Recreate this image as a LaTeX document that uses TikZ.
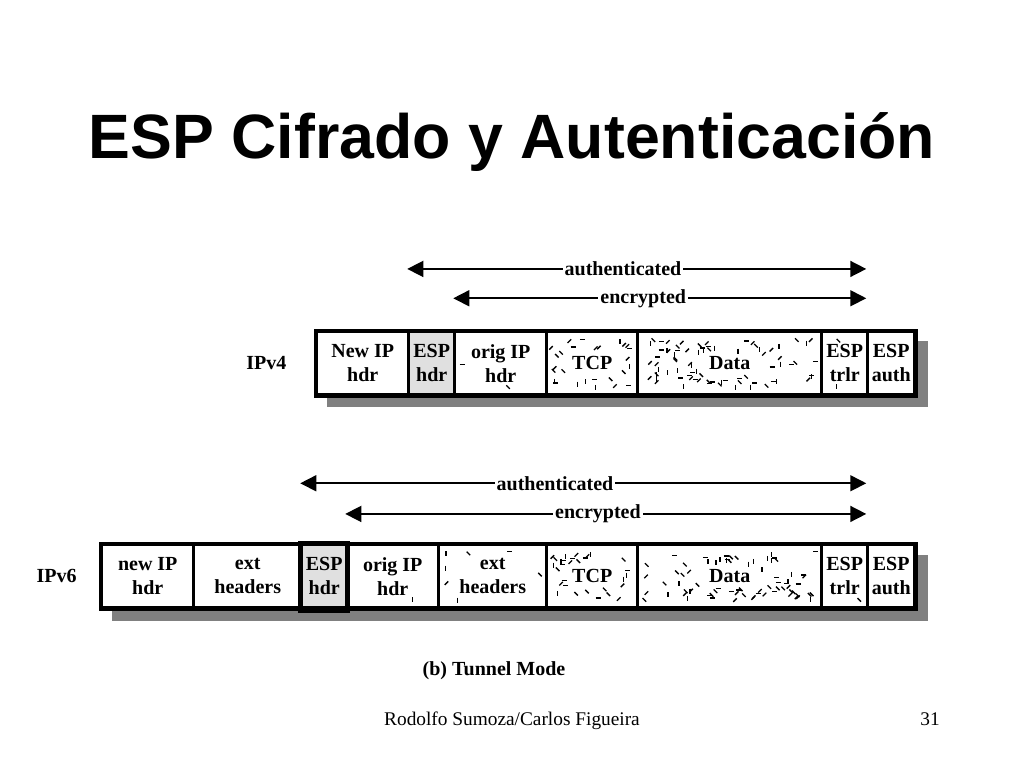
\documentclass[tikz,border=0pt]{standalone}
\usepackage{fontspec}
\setmainfont{Liberation Serif}
\newfontfamily\headfont{Liberation Sans}
\usepackage{xcolor}
\usetikzlibrary{positioning}
\usetikzlibrary{arrows.meta}
\usetikzlibrary{calc}
\usetikzlibrary{backgrounds}

\definecolor{espgrey}{HTML}{E0E0E0}
\definecolor{dropgrey}{HTML}{808080}
\newcommand\upx{0.75pt}
% random little strokes inside a field: node, count, width (px), free text box
\newcommand\speckle[5]{%
  \foreach \k in {1,...,#2}{%
    \pgfmathsetmacro\ux{(6+rnd*(#3-14))/#3}%
    \pgfmathsetmacro\vy{0.17+0.75*rnd}%
    \pgfmathsetmacro\ang{45*random(0,3)}%
    \pgfmathtruncatemacro\hit{and(abs(\ux-0.5)<#4, abs(\vy-0.55)<#5)}%
    \ifnum\hit=0
      \draw[speck] ($(#1.south west)!\ux!(#1.south east)+(0,-\vy*63)$) -- ++(\ang:5);
    \fi}}

\begin{document}
\begin{tikzpicture} [
    x=0.75pt, y=-0.75pt,
    field/.style      = { rectangle, draw, line width=2.2pt, inner sep=1pt,
                          anchor=center, minimum height=63*\upx, align=center,
                          font=\fontsize{15}{18}\selectfont\bfseries },
    esp/.style        = { fill=espgrey },
    tag/.style        = { font=\fontsize{15}{18}\selectfont\bfseries },
    span/.style       = { draw, line width=1.2pt,
                          {Triangle[length=12pt,width=12pt]}-{Triangle[length=12pt,width=12pt]} },
    spanlabel/.style  = { fill=white, inner sep=1.5pt,
                          font=\fontsize{15}{18}\selectfont\bfseries },
    outerframe/.style = { draw, line width=2pt },
    dropbox/.style    = { fill=dropgrey },
    speck/.style      = { line width=1pt },
  ]
  \useasboundingbox (0,0) rectangle (1024,768);
  \pgfmathsetseed{31}

  \node [font=\headfont\fontsize{47}{50}\selectfont\bfseries, anchor=base]
        (title) at (512,158) {ESP Cifrado y Autenticación};

  \matrix (ipv4) [anchor=north west, column sep=-2.2pt, inner sep=0pt] at (315,330) {
    \node [field, minimum width=92*\upx] (newip4) {New IP\\hdr}; &
    \node [field, esp, minimum width=46*\upx] (esp4) {ESP\\hdr}; &
    \node [field, minimum width=92*\upx] (orig4) {orig IP\\hdr}; &
    \node [field, minimum width=91*\upx] (tcp4) {TCP}; &
    \node [field, minimum width=184*\upx] (data4) {Data}; &
    \node [field, minimum width=46*\upx] (trlr4) {ESP\\trlr}; &
    \node [field, minimum width=47*\upx] (auth4) {ESP\\auth}; \\
  };

  \matrix (ipv6) [anchor=north west, column sep=-2.2pt, inner sep=0pt] at (100,543) {
    \node [field, minimum width=92*\upx] (newip6) {new IP\\hdr}; &
    \node [field, minimum width=108*\upx] (ext6) {ext\\headers}; &
    \node [field, esp, minimum width=45*\upx] (esp6) {ESP\\hdr}; &
    \node [field, minimum width=92*\upx] (orig6) {orig IP\\hdr}; &
    \node [field, minimum width=108*\upx] (inext6) {ext\\headers}; &
    \node [field, minimum width=91*\upx] (tcp6) {TCP}; &
    \node [field, minimum width=184*\upx] (data6) {Data}; &
    \node [field, minimum width=46*\upx] (trlr6) {ESP\\trlr}; &
    \node [field, minimum width=47*\upx] (auth6) {ESP\\auth}; \\
  };

  \draw [outerframe] (ipv4.north west) rectangle (ipv4.south east);
  \draw [outerframe] (ipv6.north west) rectangle (ipv6.south east);
  \draw [line width=3pt] (esp6.north west) rectangle ([yshift=-1.5pt]esp6.south east);

  % shadows and stipple go under the fields
  \begin{scope} [on background layer]
    \fill [dropbox] ([shift={(12,11)}]ipv4.north west) rectangle ([shift={(12,11)}]ipv4.south east);
    \fill [dropbox] ([shift={(12,12)}]ipv6.north west) rectangle ([shift={(12,12)}]ipv6.south east);
    \fill [white] (ipv4.north west) rectangle (ipv4.south east);
    \fill [white] (ipv6.north west) rectangle (ipv6.south east);
    \speckle{orig4}{40}{92}{0.42}{0.36}
    \speckle{tcp4}{46}{91}{0.30}{0.20}
    \speckle{data4}{95}{184}{0.16}{0.20}
    \speckle{trlr4}{16}{46}{0.45}{0.36}
    \speckle{orig6}{40}{92}{0.42}{0.36}
    \speckle{inext6}{44}{108}{0.40}{0.36}
    \speckle{tcp6}{46}{91}{0.30}{0.20}
    \speckle{data6}{95}{184}{0.16}{0.20}
    \speckle{trlr6}{16}{46}{0.45}{0.36}
  \end{scope}

  \node [tag, left=18pt of ipv4] (v4) {IPv4};
  \node [tag, left=14pt of ipv6] (v6) {IPv6};

  % coverage arrows
  \path [span] ([yshift=46pt]esp4.north west) -- node [spanlabel, pos=.47] {authenticated}
               ([yshift=46pt]auth4.north west);
  \path [span] ([yshift=24pt]orig4.north west) -- node [spanlabel, pos=.46] {encrypted}
               ([yshift=24pt]auth4.north west);
  \path [span] ([yshift=45pt]esp6.north west) -- node [spanlabel, pos=.45] {authenticated}
               ([yshift=45pt]auth6.north west);
  \path [span] ([yshift=22pt]orig6.north west) -- node [spanlabel, pos=.485] {encrypted}
               ([yshift=22pt]auth6.north west);

  \node [tag, anchor=base] (mode) at (494,675) {(b) Tunnel Mode};
  \node [font=\fontsize{14.5}{17}\selectfont, anchor=base] (authors) at (512,725)
        {Rodolfo Sumoza/Carlos Figueira};
  \node [font=\fontsize{14.5}{17}\selectfont, anchor=base] (page) at (930,725) {31};
\end{tikzpicture}
\end{document}
